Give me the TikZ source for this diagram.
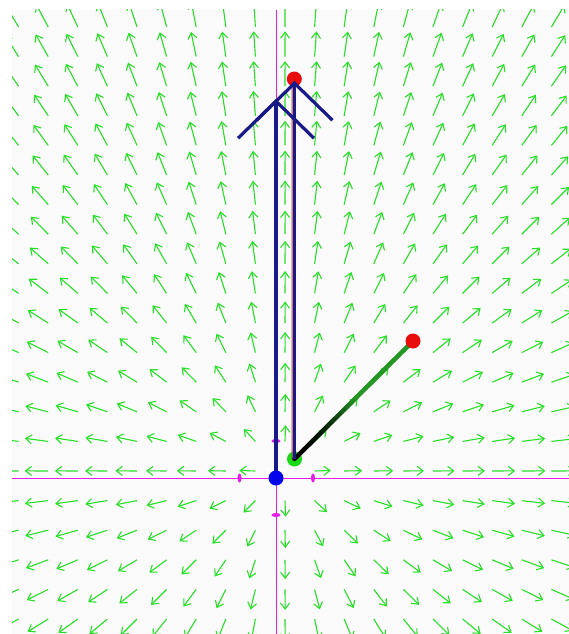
\documentclass[tikz,border=0pt]{standalone}
\usepackage{xcolor}
\usepackage{tikz}
\usetikzlibrary{arrows.meta, calc}

\definecolor{fieldgreen}{RGB}{40,222,40}
\definecolor{axispink}{RGB}{228,30,228}
\definecolor{vecnavy}{RGB}{25,25,135}
\definecolor{vecgreen}{RGB}{35,150,35}
\definecolor{thinred}{RGB}{175,50,50}
\definecolor{dotred}{RGB}{232,12,12}
\definecolor{dotgreen}{RGB}{25,218,25}
\definecolor{dotblue}{RGB}{5,5,235}
\definecolor{paper}{RGB}{250,250,250}

\begin{document}
\begin{tikzpicture}[x=1pt, y=-1pt]
    \tikzset{
        field/.style={draw=fieldgreen, line width=1.1pt, -{Straight Barb[length=6pt, width=9pt]}},
        axis/.style={draw=axispink, line width=1pt},
        tickmark/.style={fill=axispink},
        vecline/.style={draw=vecnavy, line width=3.2pt, -{Straight Barb[length=37pt, width=76pt]}},
        dot/.style={circle, inner sep=0pt, minimum size=15pt}
    }
    \useasboundingbox (0,0) rectangle (569,634);
    \fill[paper] (12,10) rectangle (569,634);

    \coordinate (Origin) at (276,478);
    \coordinate (Start) at (294.5,459);
    \coordinate (TipA) at (276,99);
    \coordinate (TipB) at (294.5,81);
    \coordinate (Top) at (294.3,79);
    \coordinate (Target) at (413,341);

    % direction field
    \begin{scope}
        \clip (12,10) rectangle (569,634);
        \foreach \i in {-9,...,10} {
            \foreach \j in {-6,...,16} {
                \pgfmathsetmacro\px{285+29.6*\i}
                \pgfmathsetmacro\py{471-29.6*\j}
                \pgfmathsetmacro\dx{\px-284}
                \pgfmathsetmacro\dy{\py-472}
                \pgfmathsetmacro\rr{veclen(\dx,\dy)}
                \ifdim\rr pt>4pt
                    \pgfmathsetmacro\len{(14+12*(1-exp(-\rr/150)))/\rr}
                    \draw[field] (\px,\py) -- ++(\len*\dx,\len*\dy);
                \fi
            }
        }
        \draw[axis] (12,478) -- (569,478);
        \draw[axis] (276,10) -- (276,634);
    \end{scope}

    \fill[tickmark] (239.5,478) ellipse (2 and 4.5);
    \fill[tickmark] (313,478) ellipse (2 and 4.5);
    \fill[tickmark] (276,441) ellipse (4.5 and 2);
    \fill[tickmark] (276,515) ellipse (4.5 and 2);

    \node[dot, fill=dotgreen] (StartDot) at (Start) {};
    \node[dot, fill=dotred] (TopDot) at (Top) {};

    \draw[thinred, line width=1pt, transform canvas={xshift=-2.3pt}] (Start) -- (Top);

    % green vector, dark at its base
    \foreach \k in {0,...,24} {
        \pgfmathsetmacro\ta{\k/25}
        \pgfmathsetmacro\tb{(\k+1)/25}
        \pgfmathtruncatemacro\mix{min(100,0.64*\k*\k)}
        \draw[draw=vecgreen!\mix!black, line width=4.5pt, line cap=round]
            ($(Start)!\ta!(Target)$) -- ($(Start)!\tb!(Target)$);
    }

    \draw[vecline] (Origin) -- (TipA);
    \draw[vecline] (Start) -- (TipB);

    \node[dot, fill=dotred] (TargetDot) at (Target) {};
    \node[dot, fill=dotblue] (OriginDot) at (Origin) {};
\end{tikzpicture}
\end{document}
